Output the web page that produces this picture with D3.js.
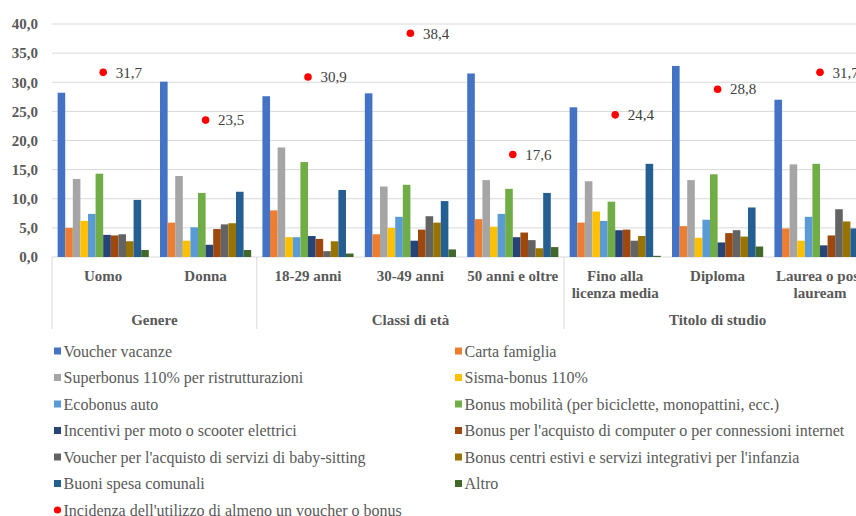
<!DOCTYPE html>
<html>
<head>
<meta charset="utf-8">
<script src="https://cdn.jsdelivr.net/npm/d3@7"></script>
<style>
  html, body { margin: 0; padding: 0; background: #fff; }
  svg { display: block; }
  svg text { font-family: "Liberation Serif", "Times New Roman", Times, serif; }
</style>
</head>
<body>
<svg id="chart" width="856" height="516" font-family="Liberation Serif, Times New Roman, serif"></svg>
<script>
// Categories (label lines) and their groups
const categories = ["Uomo", "Donna", "18-29 anni", "30-49 anni", "50 anni e oltre",
  "Fino alla licenza media", "Diploma", "Laurea o post lauream"];
const categoryLines = [["Uomo"], ["Donna"], ["18-29 anni"], ["30-49 anni"], ["50 anni e oltre"],
  ["Fino alla", "licenza media"], ["Diploma"], ["Laurea o post", "lauream"]];
const groups = ["Genere", "Classi di età", "Titolo di studio"];
const groupSizes = [2, 3, 3];

const seriesNames = [
  "Voucher vacanze",
  "Carta famiglia",
  "Superbonus 110% per ristrutturazioni",
  "Sisma-bonus 110%",
  "Ecobonus auto",
  "Bonus mobilità (per biciclette, monopattini, ecc.)",
  "Incentivi per moto o scooter elettrici",
  "Bonus per l'acquisto di computer o per connessioni internet",
  "Voucher per l'acquisto di servizi di baby-sitting",
  "Bonus centri estivi e servizi integrativi per l'infanzia",
  "Buoni spesa comunali",
  "Altro"
];
const seriesColors = ["#4472C4", "#ED7D31", "#A5A5A5", "#FFC000", "#5B9BD5", "#70AD47",
  "#264478", "#9E480E", "#636363", "#997300", "#255E91", "#43682B"];

// Values per series, one per category (same order as categories)
const voucherVacanze   = [28.2, 30.1, 27.6, 28.1, 31.5, 25.7, 32.8, 27.0];
const cartaFamiglia    = [5.0, 5.9, 8.0, 3.9, 6.5, 5.9, 5.3, 4.9];
const superbonus       = [13.4, 13.9, 18.8, 12.1, 13.2, 13.0, 13.2, 15.9];
const sismaBonus       = [6.2, 2.8, 3.4, 5.0, 5.2, 7.8, 3.3, 2.8];
const ecobonusAuto     = [7.4, 5.1, 3.4, 6.9, 7.4, 6.2, 6.4, 6.9];
const bonusMobilita    = [14.3, 11.0, 16.3, 12.4, 11.7, 9.5, 14.2, 16.0];
const incentiviMoto    = [3.8, 2.1, 3.6, 2.8, 3.4, 4.6, 2.5, 2.0];
const bonusComputer    = [3.7, 4.8, 3.1, 4.7, 4.2, 4.7, 4.1, 3.7];
const babySitting      = [3.9, 5.6, 1.0, 7.0, 2.9, 2.8, 4.6, 8.2];
const centriEstivi     = [2.7, 5.8, 2.7, 5.9, 1.5, 3.6, 3.5, 6.1];
const buoniSpesa       = [9.8, 11.2, 11.5, 9.6, 11.0, 16.0, 8.5, 4.9];
const altro            = [1.2, 1.2, 0.6, 1.3, 1.7, 0.2, 1.8, 1.0];

// Incidence of using at least one voucher or bonus
const incidenceName = "Incidenza dell'utilizzo di almeno un voucher o bonus";
const incidence = [31.7, 23.5, 30.9, 38.4, 17.6, 24.4, 28.8, 31.7];

const yTicks = [0, 5, 10, 15, 20, 25, 30, 35, 40];

const seriesValues = [voucherVacanze, cartaFamiglia, superbonus, sismaBonus, ecobonusAuto,
  bonusMobilita, incentiviMoto, bonusComputer, babySitting, centriEstivi, buoniSpesa, altro];

const fmt = v => d3.format(".1f")(v).replace(".", ",");

const svg = d3.select("#chart");
const plotLeft = 52, plotTop = 24, plotBottom = 257;
const bandW = 102.4;

const x = d3.scaleBand().domain(categories)
  .range([plotLeft, plotLeft + bandW * categories.length]).padding(0);
const xs = d3.scaleBand().domain(d3.range(seriesNames.length))
  .range([0, x.bandwidth()]).paddingInner(0).paddingOuter(0.74);
const y = d3.scaleLinear().domain([0, 40]).range([plotBottom, plotTop]);

// Horizontal gridlines
svg.append("g").selectAll("line").data(yTicks).join("line")
  .attr("x1", plotLeft).attr("x2", 900)
  .attr("y1", d => y(d)).attr("y2", d => y(d))
  .attr("stroke", "#D9D9D9").attr("stroke-width", 1);

// Y tick labels
svg.append("g").selectAll("text").data(yTicks).join("text")
  .attr("x", 38).attr("y", d => y(d)).attr("dy", "0.35em")
  .attr("text-anchor", "end")
  .attr("font-size", 15).attr("font-weight", "bold").attr("fill", "#595959")
  .text(d => fmt(d));

// Bars
const barG = svg.append("g");
seriesValues.forEach((vals, si) => {
  barG.append("g").selectAll("rect").data(vals).join("rect")
    .attr("x", (d, ci) => x(categories[ci]) + xs(si))
    .attr("width", xs.bandwidth())
    .attr("y", d => y(d))
    .attr("height", d => y(0) - y(d))
    .attr("fill", seriesColors[si]);
});

// Group separators below the axis
let acc = 0;
const sepIdx = [0];
groupSizes.forEach(n => { acc += n; sepIdx.push(acc); });
svg.append("g").selectAll("line").data(sepIdx).join("line")
  .attr("x1", i => plotLeft + i * bandW).attr("x2", i => plotLeft + i * bandW)
  .attr("y1", plotBottom).attr("y2", 329)
  .attr("stroke", "#D9D9D9").attr("stroke-width", 1);

// Category labels
const catG = svg.append("g").attr("font-size", 15).attr("font-weight", "bold").attr("fill", "#595959")
  .attr("text-anchor", "middle");
categoryLines.forEach((lines, ci) => {
  const t = catG.append("text").attr("x", x(categories[ci]) + x.bandwidth() / 2).attr("y", 281);
  lines.forEach((ln, li) => {
    t.append("tspan").attr("x", x(categories[ci]) + x.bandwidth() / 2)
      .attr("dy", li === 0 ? 0 : 16.5).text(ln);
  });
});

// Group labels
acc = 0;
groups.forEach((g, gi) => {
  const cx = plotLeft + (acc + groupSizes[gi] / 2) * bandW;
  acc += groupSizes[gi];
  svg.append("text").attr("x", cx).attr("y", 325)
    .attr("text-anchor", "middle").attr("font-size", 15).attr("font-weight", "bold")
    .attr("fill", "#595959").text(g);
});

// Incidence dots with value labels
const dotG = svg.append("g");
dotG.selectAll("circle").data(incidence).join("circle")
  .attr("cx", (d, i) => x(categories[i]) + x.bandwidth() / 2)
  .attr("cy", d => y(d)).attr("r", 3.8).attr("fill", "#FF0000");
dotG.selectAll("text").data(incidence).join("text")
  .attr("x", (d, i) => x(categories[i]) + x.bandwidth() / 2 + 12.5)
  .attr("y", d => y(d)).attr("dy", "0.35em")
  .attr("font-size", 15).attr("fill", "#404040")
  .text(d => fmt(d));

// Legend: two columns, then the incidence marker
const legend = svg.append("g").attr("font-size", 16).attr("fill", "#595959");
const colX = [54, 455];
const rowY0 = 351, rowH = 26.5;
seriesNames.forEach((name, i) => {
  const cx = colX[i % 2], cy = rowY0 + Math.floor(i / 2) * rowH;
  legend.append("rect").attr("x", cx).attr("y", cy - 3.5).attr("width", 7).attr("height", 7)
    .attr("fill", seriesColors[i]);
  legend.append("text").attr("x", cx + 9.5).attr("y", cy).attr("dy", "0.35em").text(name);
});
{
  const cy = rowY0 + 6 * rowH;
  legend.append("circle").attr("cx", colX[0] + 3.5).attr("cy", cy).attr("r", 3.6).attr("fill", "#FF0000");
  legend.append("text").attr("x", colX[0] + 9.5).attr("y", cy).attr("dy", "0.35em").text(incidenceName);
}
</script>
</body>
</html>
